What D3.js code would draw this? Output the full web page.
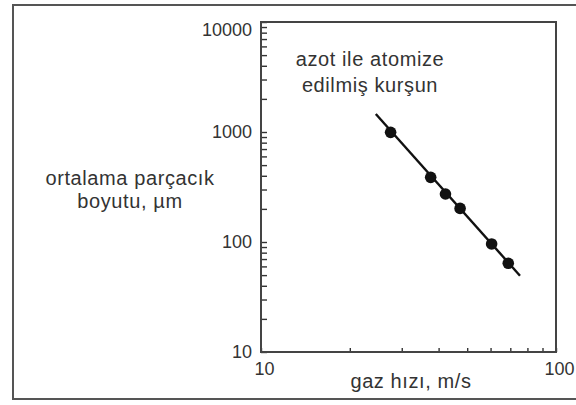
<!DOCTYPE html>
<html>
<head>
<meta charset="utf-8">
<script src="https://cdn.jsdelivr.net/npm/d3@7"></script>
<style>
  body { margin: 0; background: #fff; }
  svg { display: block; font-family: "Liberation Sans", Arial, sans-serif; }
  .tick text { fill: #333; font-size: 18px; }
  .tick line { stroke: #333; stroke-width: 1.4px; }
  .title { fill: #333; font-size: 20px; letter-spacing: 0.6px; }
</style>
</head>
<body>
<svg width="576" height="405"></svg>
<script>
// measured points (gas velocity m/s, mean particle size um)
let gasVelocity = [27.5, 37.6, 42.2, 47.3, 60.5, 68.9];
let particleSize = [993, 387, 273, 202, 96, 64];

// fitted line ends
let fitVelocity = [24.5, 75.5];
let fitSize = [1458, 49.4];

let xTickLabels = [10, 100];
let yTickLabels = [10, 100, 1000, 10000];

let yAxisTitle = ["ortalama parçacık", "boyutu, µm"];
let xAxisTitle = "gaz hızı, m/s";
let note = ["azot ile atomize", "edilmiş kurşun"];

let svg = d3.select('svg');
let plotLeft = 261, plotRight = 556, plotTop = 22, plotBottom = 352;

let xScale = d3.scaleLog().domain([10, 100]).range([plotLeft, plotRight]);
let yScale = d3.scaleLog().domain([10, 10000]).range([plotBottom, plotTop]);

// outer frame
svg.append('rect')
  .attr('x', 13)
  .attr('y', 5)
  .attr('width', 620)
  .attr('height', 394)
  .attr('fill', 'none')
  .attr('stroke', '#555')
  .attr('stroke-width', 2)

let xTicks = d3.range(1, 11).map(d => d * 10);
let yTicks = [];
[10, 100, 1000].forEach(dec => {
  for (let i = 1; i < 10; i++) yTicks.push(dec * i);
});
yTicks.push(10000);

let yAxis = d3.axisLeft(yScale)
  .tickValues(yTicks)
  .tickSizeInner(-6)
  .tickSizeOuter(0)
  .tickPadding(9)
  .tickFormat(d => yTickLabels.includes(d) ? d : '');

let gy = svg.append('g')
  .attr('transform', `translate(${plotLeft},0)`)
  .call(yAxis);
gy.selectAll('text').filter(d => d === 10000).attr('dy', '0.75em');

let xAxis = d3.axisBottom(xScale)
  .tickValues(xTicks)
  .tickSizeInner(-4)
  .tickSizeOuter(0)
  .tickPadding(10)
  .tickFormat(d => xTickLabels.includes(d) ? d : '');

let gx = svg.append('g')
  .attr('transform', `translate(0,${plotBottom})`)
  .call(xAxis);
gx.selectAll('text').attr('dx', 3);

[gx, gy].forEach(g => {
  g.select('.domain').remove();
  g.attr('font-size', null).attr('font-family', null);
});

// plot box
svg.append('rect')
  .attr('x', plotLeft)
  .attr('y', plotTop)
  .attr('width', plotRight - plotLeft)
  .attr('height', plotBottom - plotTop)
  .attr('fill', 'none')
  .attr('stroke', '#444')
  .attr('stroke-width', 2)

// fit line
let line = d3.line()
  .x(d => xScale(d[0]))
  .y(d => yScale(d[1]));

svg.append('path')
  .datum(d3.zip(fitVelocity, fitSize))
  .attr('d', line)
  .attr('fill', 'none')
  .attr('stroke', '#111')
  .attr('stroke-width', 2.4)

svg.selectAll('circle')
  .data(d3.zip(gasVelocity, particleSize))
  .enter()
  .append('circle')
  .attr('cx', d => xScale(d[0]))
  .attr('cy', d => yScale(d[1]))
  .attr('r', 5.8)
  .attr('fill', '#111')

// titles
let yt = svg.append('text')
  .attr('class', 'title')
  .attr('text-anchor', 'middle')
yt.selectAll('tspan')
  .data(yAxisTitle)
  .enter()
  .append('tspan')
  .attr('x', 130)
  .attr('y', (d, i) => 185 + i * 23)
  .text(d => d)

svg.append('text')
  .attr('class', 'title')
  .attr('text-anchor', 'middle')
  .attr('x', 411)
  .attr('y', 388)
  .text(xAxisTitle)

let nt = svg.append('text')
  .attr('class', 'title')
  .attr('text-anchor', 'middle')
nt.selectAll('tspan')
  .data(note)
  .enter()
  .append('tspan')
  .attr('x', 370)
  .attr('y', (d, i) => 66 + i * 26)
  .text(d => d)
</script>
</body>
</html>
